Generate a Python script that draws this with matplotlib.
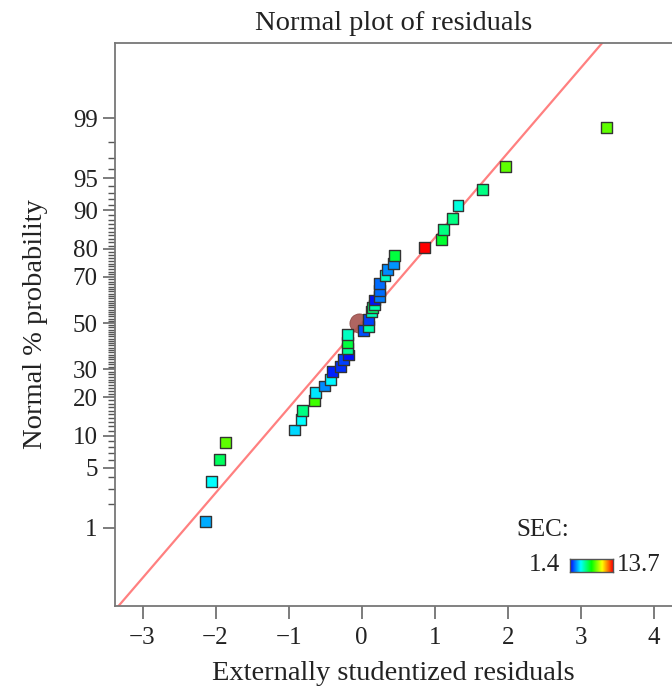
import math
import numpy as np
import matplotlib
matplotlib.use("Agg")
import matplotlib.pyplot as plt
from matplotlib.colors import LinearSegmentedColormap, Normalize

# externally studentized residuals and their normal % probability
residuals = [-2.14, -2.06, -1.95, -1.86, -0.92, -0.83, -0.81, -0.65, -0.63, -0.51,
             -0.42, -0.40, -0.29, -0.25, -0.18, -0.19, -0.19, -0.19, 0.02, 0.09,
             0.10, 0.14, 0.15, 0.18, 0.18, 0.25, 0.25, 0.25, 0.32, 0.35,
             0.44, 0.45, 0.86, 1.10, 1.12, 1.24, 1.32, 1.65, 1.97, 3.35]
probability = [1.2, 3.6, 6.1, 8.7, 11.2, 13.7, 16.1, 18.8, 21.4, 23.7,
               25.9, 29.0, 31.2, 34.0, 35.8, 38.4, 41.3, 45.0, 46.8, 48.6,
               51.8, 55.1, 56.9, 58.1, 60.3, 61.7, 64.3, 67.4, 70.7, 72.9,
               75.1, 78.0, 80.5, 83.0, 85.7, 88.3, 90.9, 93.5, 96.2, 98.7]
# SEC value of each run (colour of the square)
sec = [3.5, 4.5, 6.4, 8.7, 4.0, 4.5, 6.0, 8.3, 4.2, 3.1,
       4.4, 1.8, 2.0, 2.2, 1.6, 5.8, 6.8, 5.2, 2.4, 5.5,
       2.2, 5.4, 6.3, 5.5, 1.6, 2.9, 2.7, 2.7, 5.2, 3.1,
       3.2, 6.8, 13.7, 7.0, 6.0, 6.0, 4.9, 6.0, 8.7, 8.7]

# highlighted point (round marker)
hl_residual = -0.03
hl_probability = 50.0

sec_min, sec_max = 1.4, 13.7
line_slope = 0.966

major_ticks = [1, 5, 10, 20, 30, 50, 70, 80, 90, 95, 99]
x_ticks = [-3, -2, -1, 0, 1, 2, 3, 4]


def norm_ppf(p):
    lo, hi = -8.0, 8.0
    for _ in range(80):
        mid = 0.5 * (lo + hi)
        if 0.5 * (1 + math.erf(mid / math.sqrt(2))) < p:
            lo = mid
        else:
            hi = mid
    return 0.5 * (lo + hi)


to_z = np.vectorize(norm_ppf)

plt.rcParams['font.family'] = ['Liberation Serif', 'DejaVu Serif']

cmap = LinearSegmentedColormap.from_list(
    "sec", ["#0000ff", "#00ffff", "#00ff00", "#ffff00", "#ff0000"])
norm = Normalize(sec_min, sec_max)

fig = plt.figure(figsize=(6.72, 6.89), dpi=100)
W, H = 672, 689
ax = fig.add_axes([115 / W, (H - 606) / H, (W - 115) / W, (606 - 43) / H])

x0, x1 = -3.377, 4.25
z0, z1 = -3.216, 3.182

# reference line
xs = np.array([x0 - 1, x1 + 1])
ax.plot(xs, line_slope * xs, color="#ff8080", lw=1.6, zorder=1)

ax.scatter([hl_residual], to_z(np.array([hl_probability]) / 100), s=190,
           marker="o", color="#a65450", alpha=0.9, edgecolors="#8a4540",
           linewidths=0.6, zorder=2)

zs = to_z(np.array(probability) / 100)
ax.scatter(residuals, zs, s=62, marker="s", c=sec, cmap=cmap, norm=norm,
           edgecolors="#333333", linewidths=1.0, zorder=3)

ax.set_xlim(x0, x1)
ax.set_ylim(z0, z1)

ax.set_xticks(x_ticks)
ax.set_xticklabels([str(t).replace("-", "\u2212") for t in x_ticks])
ax.set_yticks(to_z(np.array(major_ticks) / 100))
ax.set_yticklabels([str(t) for t in major_ticks])
minor = [p for p in range(2, 99) if p not in major_ticks]
ax.set_yticks(to_z(np.array(minor) / 100), minor=True)

ax.tick_params(axis="both", which="major", length=9, width=1.2, color="#666666",
               labelsize=18, labelcolor="#222222")
ax.tick_params(axis="y", which="minor", length=5, width=1.0, color="#555555")
ax.tick_params(axis="x", pad=6)

for side in ["left", "bottom", "top"]:
    ax.spines[side].set_color("#777777")
    ax.spines[side].set_linewidth(1.3)
ax.spines["right"].set_visible(False)

ax.set_xlabel("Externally studentized residuals", fontsize=20.5, color="#222222",
              labelpad=9)
ax.set_ylabel("Normal % probability", fontsize=20.5, color="#222222", labelpad=18)
ax.set_title("Normal plot of residuals", fontsize=20.5, color="#222222", pad=9)

# SEC colour legend
fig.text(516 / W, 1 - 530 / H, "SEC:", fontsize=18, color="#222222",
         ha="left", va="center")
fig.text(560 / W, 1 - 565 / H, f"{sec_min}", fontsize=18, color="#222222",
         ha="right", va="center")
fig.text(617 / W, 1 - 565 / H, f"{sec_max}", fontsize=18, color="#222222",
         ha="left", va="center")
cax = fig.add_axes([570 / W, 1 - 572 / H, 43 / W, 13 / H])
cax.imshow(np.linspace(0, 1, 256)[None, :], aspect="auto", cmap=cmap)
cax.set_xticks([])
cax.set_yticks([])
for s in cax.spines.values():
    s.set_color("#555555")
    s.set_linewidth(1.0)

fig.savefig("out.png", dpi=100)
